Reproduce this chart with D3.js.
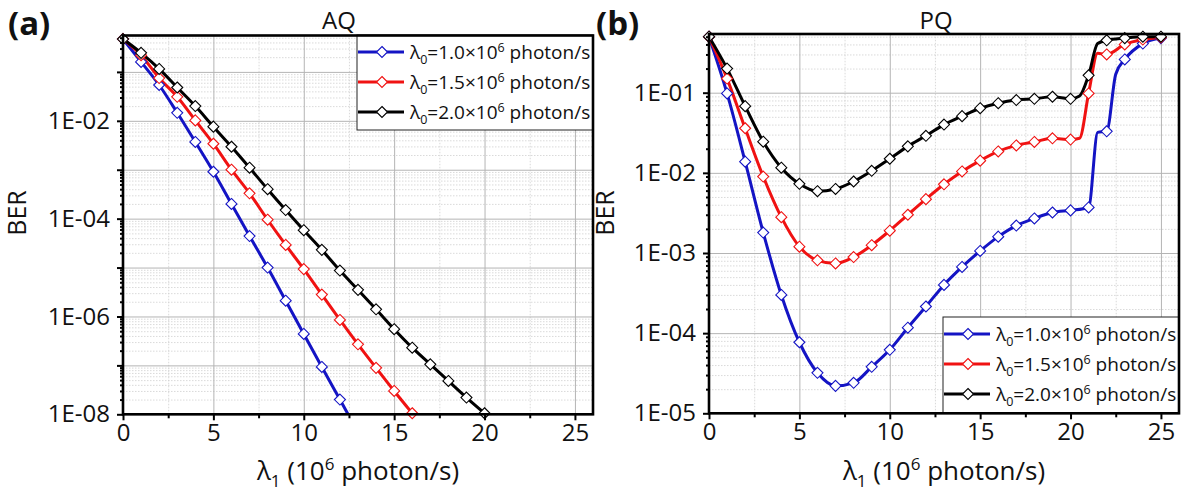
<!DOCTYPE html>
<html><head><meta charset="utf-8">
<script src="https://cdn.jsdelivr.net/npm/d3@7"></script>
<style>
body{margin:0;background:#fff;}
svg{display:block;font-family:"Open Sans",sans-serif;}
</style></head><body>
<svg id="chart" width="1185" height="496"></svg>
<script>
// ---------------- data ----------------
const xAQ = [0,1,2,3,4,5,6,7,8,9,10,11,12,13,14,15,16,17,18,19,20];
const aqBlue  = [0.47,0.16,0.054,0.0146,3.7e-3,9.1e-4,2.0e-4,4.4e-5,1.0e-5,2.1e-6,4.4e-7,9.3e-8,2.0e-8,4.3e-9];
const aqRed   = [0.47,0.22,0.075,0.031,0.0102,3.4e-3,1.0e-3,3.3e-4,9.5e-5,2.9e-5,9.3e-6,2.8e-6,8.5e-7,2.7e-7,8.9e-8,3.0e-8,1.05e-8];
const aqBlack = [0.47,0.245,0.115,0.048,0.020,7.6e-3,2.95e-3,1.1e-3,4.0e-4,1.5e-4,5.8e-5,2.3e-5,8.7e-6,3.5e-6,1.4e-6,5.5e-7,2.3e-7,1.05e-7,4.8e-8,2.2e-8,1.05e-8];

const xPQ = [0,1,2,3,4,5,6,7,8,9,10,11,12,13,14,15,16,17,18,19,20,21,22,23,24,25];
const pqBlue  = [0.50,0.098,0.0138,0.0018,3.0e-4,7.7e-5,3.2e-5,2.2e-5,2.4e-5,3.8e-5,6.2e-5,1.17e-4,2.15e-4,4.0e-4,6.7e-4,1.06e-3,1.6e-3,2.2e-3,2.7e-3,3.2e-3,3.4e-3,3.7e-3,0.033,0.26,0.41,0.48];
const pqRed   = [0.50,0.15,0.036,0.0090,0.0028,0.0012,8.1e-4,7.4e-4,8.9e-4,1.25e-3,1.9e-3,3.0e-3,4.7e-3,7.2e-3,0.0104,0.0142,0.0185,0.022,0.0243,0.027,0.026,0.098,0.30,0.40,0.46,0.49];
const pqBlack = [0.50,0.20,0.068,0.0245,0.0116,0.0073,0.0059,0.0063,0.0078,0.0106,0.015,0.0214,0.029,0.040,0.051,0.064,0.074,0.081,0.084,0.089,0.084,0.165,0.45,0.48,0.50,0.50];
const pqBlueLineX  = [21.5, 22.5];
const pqBlueLineY  = [0.032, 0.17];
const pqRedLineX   = [20.5, 21.5];
const pqRedLineY   = [0.027, 0.31];
const pqBlackLineX = [20.5, 21.5];
const pqBlackLineY = [0.091, 0.41];

const legendValues = ['1.0','1.5','2.0'];
const xMajorTicks = [0,5,10,15,20,25];
const xMinorTicks = [2.5,7.5,12.5,17.5,22.5];
const aqDecades = [1e-1,1e-2,1e-3,1e-4,1e-5,1e-6,1e-7,1e-8];
const aqLabeled = [1e-2,1e-4,1e-6,1e-8];
const pqDecades = [1e-1,1e-2,1e-3,1e-4,1e-5];
const pqLabeled = [1e-1,1e-2,1e-3,1e-4,1e-5];

// ---------------- styles ----------------
const BLUE = '#1414c4', RED = '#f01212', BLACK = '#000000';
const colors = [BLUE, RED, BLACK];
const svg = d3.select('#chart');

function mk(xs, ys, lx, ly) {
  const pts = ys.map((v,i)=>({x:xs[i], y:v, m:true}));
  const extra = (lx||[]).map((v,i)=>({x:v, y:ly[i], m:false}));
  return pts.concat(extra).sort((a,b)=>a.x-b.x);
}

const panels = [
  {key:'a', title:'AQ', tag:'(a)', tagX:8, titleX:339, x0:123, x1:593, y0:35.5, y1:414.3,
   yMin:1e-8, yMax:0.555, decades:aqDecades, labeled:aqLabeled, berX:17,
   series:[mk(xAQ,aqBlue), mk(xAQ,aqRed), mk(xAQ,aqBlack)],
   legend:{x:357, y:35, w:236, h:95}},
  {key:'b', title:'PQ', tag:'(b)', tagX:596, titleX:936, x0:709, x1:1179, y0:34, y1:413.3,
   yMin:1e-5, yMax:0.54, decades:pqDecades, labeled:pqLabeled, berX:605,
   series:[mk(xPQ,pqBlue,pqBlueLineX,pqBlueLineY), mk(xPQ,pqRed,pqRedLineX,pqRedLineY), mk(xPQ,pqBlack,pqBlackLineX,pqBlackLineY)],
   legend:{x:943, y:317, w:236, h:96}}
];

function diamond(r){ return `M0,${-r}L${r},0L0,${r}L${-r},0Z`; }
function fmtE(d){ const e = Math.round(Math.log10(d)); return '1E' + (e<0?'-':'+') + String(Math.abs(e)).padStart(2,'0'); }

panels.forEach(p => {
  const g = svg.append('g');
  const x = d3.scaleLinear().domain([0,26]).range([p.x0,p.x1]);
  const y = d3.scaleLog().domain([p.yMin,p.yMax]).range([p.y1,p.y0]);
  const W = p.x1-p.x0, H = p.y1-p.y0;

  const minor = [];
  const eLo = Math.round(Math.log10(p.yMin)), eHi = Math.ceil(Math.log10(p.yMax));
  for (let e=eLo; e<eHi; e++) for (let k=2;k<=9;k++){ const v=k*Math.pow(10,e); if (v<p.yMax) minor.push(v); }

  // grid
  const gridMinorY = g.append('g').attr('transform',`translate(${p.x0},0)`)
    .call(d3.axisLeft(y).tickValues(minor).tickSize(-W).tickFormat(''));
  const gridMinorX = g.append('g').attr('transform',`translate(0,${p.y1})`)
    .call(d3.axisBottom(x).tickValues(xMinorTicks).tickSize(-H).tickFormat(''));
  [gridMinorY, gridMinorX].forEach(s=>{ s.select('.domain').remove();
    s.selectAll('line').attr('stroke','#d0d0d0').attr('stroke-width',0.8).attr('stroke-dasharray','1.5,1.5'); });
  const gridY = g.append('g').attr('transform',`translate(${p.x0},0)`)
    .call(d3.axisLeft(y).tickValues(p.decades).tickSize(-W).tickFormat(''));
  const gridX = g.append('g').attr('transform',`translate(0,${p.y1})`)
    .call(d3.axisBottom(x).tickValues(xMajorTicks).tickSize(-H).tickFormat(''));
  [gridY, gridX].forEach(s=>{ s.select('.domain').remove();
    s.selectAll('line').attr('stroke','#b4b4b4').attr('stroke-width',1); });

  const cid = 'clip-'+p.key;
  svg.append('defs').append('clipPath').attr('id',cid).append('rect')
    .attr('x',p.x0).attr('y',p.y0).attr('width',W).attr('height',H);

  const line = d3.line().x(d=>x(d.x)).y(d=>y(d.y)).curve(d3.curveMonotoneX);
  p.series.forEach((s,i)=>{
    g.append('path').attr('clip-path',`url(#${cid})`).attr('d',line(s))
      .attr('fill','none').attr('stroke',colors[i]).attr('stroke-width',3).attr('stroke-linejoin','round');
  });
  p.series.forEach((s,i)=>{
    g.selectAll(null).data(s.filter(d=>d.m && d.y>=p.yMin*0.97)).enter().append('path')
      .attr('d',diamond(5.5)).attr('transform',d=>`translate(${x(d.x)},${y(d.y)})`)
      .attr('fill','#fff').attr('stroke',colors[i]).attr('stroke-width',1.1);
  });

  // legend
  const L = p.legend;
  const lg = g.append('g');
  lg.append('rect').attr('x',L.x).attr('y',L.y).attr('width',L.w).attr('height',L.h)
    .attr('fill','#fff').attr('stroke','#222').attr('stroke-width',1);
  legendValues.forEach((v,i)=>{
    const yy = L.y + 17 + i*30;
    lg.append('line').attr('x1',L.x+1).attr('x2',L.x+47).attr('y1',yy).attr('y2',yy)
      .attr('stroke',colors[i]).attr('stroke-width',3);
    lg.append('path').attr('d',diamond(5.5)).attr('transform',`translate(${L.x+25},${yy})`)
      .attr('fill','#fff').attr('stroke',colors[i]).attr('stroke-width',1.1);
    const t = lg.append('text').attr('x',L.x+53).attr('y',yy+6.5).attr('font-size',19).attr('fill','#111');
    t.append('tspan').text('λ');
    t.append('tspan').attr('dy',5).attr('font-size',12.5).text('0');
    t.append('tspan').attr('dy',-5).text('=' + v + '×10');
    t.append('tspan').attr('dy',-7).attr('font-size',12.5).text('6');
    t.append('tspan').attr('dy',7).text(' photon/s');
  });

  // frame
  g.append('rect').attr('x',p.x0).attr('y',p.y0).attr('width',W).attr('height',H)
    .attr('fill','none').attr('stroke','#000').attr('stroke-width',2.6);

  // axes ticks
  const ax = g.append('g').attr('transform',`translate(0,${p.y1})`)
    .call(d3.axisBottom(x).tickValues(xMajorTicks).tickSize(6).tickPadding(4).tickFormat(d3.format('d')));
  const axm = g.append('g').attr('transform',`translate(0,${p.y1})`)
    .call(d3.axisBottom(x).tickValues(xMinorTicks).tickSize(4).tickFormat(''));
  const ay = g.append('g').attr('transform',`translate(${p.x0},0)`)
    .call(d3.axisLeft(y).tickValues(p.decades).tickSize(6).tickPadding(7)
      .tickFormat(d => p.labeled.some(v=>Math.abs(Math.log10(v)-Math.log10(d))<1e-6) ? fmtE(d) : ''));
  const aym = g.append('g').attr('transform',`translate(${p.x0},0)`)
    .call(d3.axisLeft(y).tickValues(minor).tickSize(3).tickFormat(''));
  [ax,axm,ay,aym].forEach(s=>{ s.select('.domain').remove();
    s.selectAll('line').attr('stroke','#000').attr('stroke-width',2); });
  [ax,ay].forEach(s=>s.selectAll('text').attr('font-size',24).attr('fill','#111')
      .attr('font-family','"Open Sans",sans-serif'));

  // titles
  g.append('text').attr('x',p.titleX).attr('y',28.5).attr('text-anchor','middle')
    .attr('font-size',24).attr('fill','#111').text(p.title);
  g.append('text').attr('x',p.tagX).attr('y',35).attr('font-size',33).attr('font-weight','bold')
    .attr('fill','#111').text(p.tag);
  g.append('text').attr('transform',`translate(${p.berX},213) rotate(-90)`).attr('text-anchor','middle')
    .attr('dy','0.35em').attr('font-size',25).attr('fill','#111').text('BER');
  const xt = g.append('text').attr('x',(p.x0+p.x1)/2).attr('y',480).attr('text-anchor','middle')
    .attr('font-size',26).attr('fill','#111');
  xt.append('tspan').text('λ');
  xt.append('tspan').attr('dy',7).attr('font-size',17).text('1');
  xt.append('tspan').attr('dy',-7).text(' (10');
  xt.append('tspan').attr('dy',-10).attr('font-size',17).text('6');
  xt.append('tspan').attr('dy',10).text(' photon/s)');
});
</script>
</body></html>
